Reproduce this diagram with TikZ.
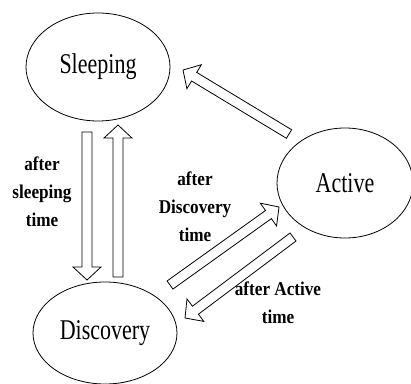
\documentclass[tikz,border=0pt]{standalone}
\usepackage{fontspec}
\setmainfont{Liberation Serif}
\newfontfamily\lblfont[FakeStretch=0.88]{Liberation Serif}
\usetikzlibrary{calc,shapes.geometric}
\tikzset{
  state/.style={draw, ellipse, line width=0.8pt, inner sep=0pt,
    font=\fontsize{22}{26}\selectfont},
  hollow/.style={draw, line width=0.8pt, fill=white, line join=miter},
  lbl/.style={font=\lblfont\fontsize{19.5}{28}\selectfont\bfseries, align=center, inner sep=0pt, anchor=north}
}
\newcommand{\hollowarrow}[2]{%
  \coordinate (hh) at ($(#2)!13pt!(#1)$);
  \draw[hollow] ($(#1)!5pt!90:(#2)$) -- ($(hh)!5pt!90:(#2)$) -- ($(hh)!14pt!90:(#2)$)
    -- (#2) -- ($(hh)!14pt!-90:(#2)$) -- ($(hh)!5pt!-90:(#2)$)
    -- ($(#1)!5pt!-90:(#2)$) -- cycle;}
\begin{document}
\begin{tikzpicture}[x=1pt,y=1pt]
\useasboundingbox (0,0) rectangle (411,383);
\node[state, minimum width=144, minimum height=108] (sleep) at (98,316) {\scalebox{1}[1.3]{Sleeping}};
\node[state, minimum width=136, minimum height=110] (active) at (345,200) {\scalebox{1}[1.3]{Active}};
\node[state, minimum width=144, minimum height=102] (disc) at (105,50) {\scalebox{1}[1.3]{Discovery}};

\coordinate (s1t) at (87,251);  \coordinate (s1h) at (87,103);
\coordinate (s2t) at (118,106); \coordinate (s2h) at (118,258);
\coordinate (a1t) at (289,249); \coordinate (a1h) at (183,313);
\coordinate (d1t) at (170,98);  \coordinate (d1h) at (279,176);
\coordinate (a2t) at (293,146); \coordinate (a2h) at (185,65);

\hollowarrow{s1t}{s1h}
\hollowarrow{s2t}{s2h}
\hollowarrow{a1t}{a1h}
\hollowarrow{d1t}{d1h}
\hollowarrow{a2t}{a2h}

\node[lbl] (l1) at (42,226) {after\\sleeping\\time};
\node[lbl] (l2) at (195,211) {after\\Discovery\\time};
\node[lbl] (l3) at (278,101) {after Active\\time};
\end{tikzpicture}
\end{document}
